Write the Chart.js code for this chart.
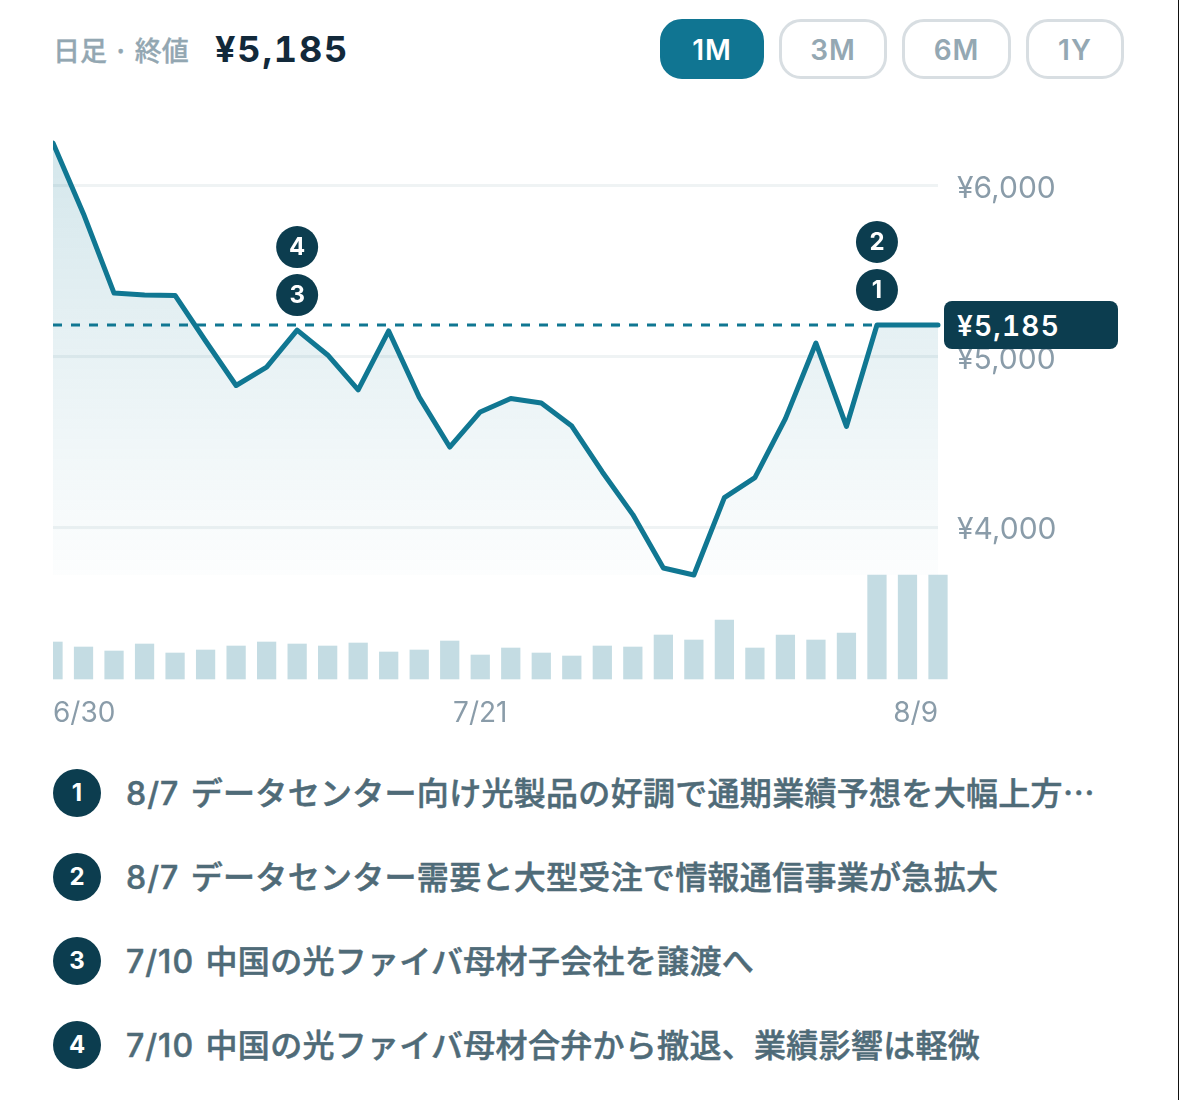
<!DOCTYPE html>
<html lang="ja">
<head>
<meta charset="utf-8">
<title>日足チャート</title>
<script src="https://cdn.jsdelivr.net/npm/chart.js@4/dist/chart.umd.min.js"></script>
<style>
    html, body { margin: 0; padding: 0; background: #fff; }
    body { position: relative; width: 1179px; height: 1100px; overflow: hidden; font-family: Inter, "Noto Sans CJK JP", sans-serif; }
    .edge { position: absolute; right: 0; top: 0; width: 1px; height: 1100px; background: #111; }
    .head-label { position: absolute; left: 53px; top: 30px; font: 500 27px/40px "Noto Sans CJK JP", sans-serif; -webkit-text-stroke: 0.3px #93a7b2; color: #93a7b2; white-space: pre; }
    .head-price { position: absolute; left: 215px; top: 26px; font: 700 36px/46px Inter, sans-serif; font-feature-settings: "tnum"; letter-spacing: 1.8px; color: #12293a; }
    .btn { position: absolute; top: 19px; height: 60px; box-sizing: border-box; border: 3px solid #d8dee2; border-radius: 22px; text-align: center; font: 600 28px/56px Inter, sans-serif; letter-spacing: 1px; color: #94a8b3; }
    .btn.on { background: #107592; border-color: #107592; color: #fff; }
    #chartBox { position: absolute; left: 53px; top: 100px; width: 1126px; height: 640px; }
    #priceTag { position: absolute; left: 944px; width: 174px; height: 48px; box-sizing: border-box; padding-left: 13px; border-radius: 8px; background: #0c3d4f; color: #fff; font: 600 28px/50px Inter, sans-serif; font-feature-settings: "tnum"; letter-spacing: 1.2px; }
    .news { position: absolute; left: 53px; height: 48px; white-space: nowrap; }
    .news .no { position: absolute; left: 0; top: 0; width: 48px; height: 48px; border-radius: 50%; background: #0c3d4f; color: #fff; text-align: center; font: 700 24px/48px Inter, sans-serif; }
    .news .txt { position: absolute; left: 73px; top: -2px; font: 500 32px/48px "Noto Sans CJK JP", sans-serif; letter-spacing: 0.3px; -webkit-text-stroke: 0.5px #4f6b78; color: #4f6b78; }
    .news .dt { font-family: Inter, sans-serif; letter-spacing: 1px; margin-right: 4px; }
</style>
</head>
<body>
<div class="edge"></div>
<div class="head-label">日足 · 終値</div>
<div class="head-price">¥5,185</div>
<div id="buttons"></div>
<div id="chartBox"><canvas id="priceChart"></canvas></div>
<div id="priceTag"></div>
<div id="newsList"></div>

<script>
// 日付ラベル
const dates = ['6/30','7/1','7/2','7/3','7/4','7/7','7/8','7/9','7/10','7/11','7/14','7/15','7/16','7/17','7/21',
    '7/22','7/23','7/24','7/25','7/28','7/29','7/30','7/31','8/1','8/4','8/5','8/6','8/7','8/8','8/9'];
// 終値
const closes = [6252,5836,5372,5361,5358,5091,4830,4938,5155,5009,4804,5150,4762,4469,4675,
    4754,4727,4592,4323,4073,3760,3719,4173,4290,4636,5079,4590,5185,5185,5185];
// 出来高 (相対値)
const volumes = [37,32,28,35,26,29,33,37,35,33,36,27,29,38,24,
    31,26,23,33,32,44,39,59,31,44,39,46,104,104,104];
const latestClose = [5185,5185,5185,5185,5185,5185,5185,5185,5185,5185,5185,5185,5185,5185,5185,
    5185,5185,5185,5185,5185,5185,5185,5185,5185,5185,5185,5185,5185,5185,5185];
const priceTicks = [4000, 5000, 6000];
const dateTicks = ['6/30', '7/21', '8/9'];
const rangeNames = ['1M', '3M', '6M', '1Y'];
const newsNos = [1, 2, 3, 4];
const newsDates = ['8/7', '8/7', '7/10', '7/10'];
const newsTexts = [
    'データセンター向け光製品の好調で通期業績予想を大幅上方…',
    'データセンター需要と大型受注で情報通信事業が急拡大',
    '中国の光ファイバ母材子会社を譲渡へ',
    '中国の光ファイバ母材合弁から撤退、業績影響は軽微'
];
// チャート上のマーカー (日付ごとのニュース番号)
const markerDates = ['7/10', '8/7'];
const markerNos = [[3, 4], [1, 2]];

const yen = v => '¥' + v.toLocaleString('en-US');
const INK = '#0c3d4f', TEAL = '#107792', MUTED = '#8a9ca9';

// ボタン
const btnBox = [[660, 104], [779, 108], [902, 109], [1026, 98]];
document.getElementById('buttons').innerHTML = rangeNames.map((name, i) =>
    `<div class="btn${i === 0 ? ' on' : ''}" style="left:${btnBox[i][0]}px;width:${btnBox[i][1]}px">${name}</div>`).join('');

// ニュース一覧
document.getElementById('newsList').innerHTML = newsNos.map((no, i) =>
    `<div class="news" style="top:${769 + i * 84}px"><div class="no">${no}</div>` +
    `<div class="txt"><span class="dt">${newsDates[i]}</span> ${newsTexts[i]}</div></div>`).join('');

// マーカーを描き、価格タグの位置を合わせるプラグイン
const overlayPlugin = {
    id: 'overlay',
    afterDraw(chart) {
        const { ctx, scales: { x, y } } = chart;
        ctx.save();
        markerDates.forEach((d, m) => {
            const i = dates.indexOf(d);
            const px = x.getPixelForValue(i);
            const py = y.getPixelForValue(closes[i]);
            markerNos[m].forEach((no, k) => {
                const cy = py - 35 - k * 48;
                ctx.beginPath();
                ctx.arc(px, cy, 21, 0, Math.PI * 2);
                ctx.fillStyle = INK;
                ctx.fill();
                ctx.fillStyle = '#fff';
                ctx.font = '700 24px Inter';
                ctx.textAlign = 'center';
                ctx.textBaseline = 'middle';
                ctx.fillText(no, px, cy + 1);
            });
        });
        ctx.restore();
        // 価格タグ
        const last = closes[closes.length - 1];
        const tag = document.getElementById('priceTag');
        tag.textContent = yen(last);
        tag.style.top = (chart.canvas.parentNode.offsetTop + y.getPixelForValue(last) - 24) + 'px';
    }
};

const ctx = document.getElementById('priceChart').getContext('2d');
// 塗りつぶしのグラデーション
const areaGrad = ctx.createLinearGradient(0, 43, 0, 475);
areaGrad.addColorStop(0, 'rgba(16,119,146,0.18)');
areaGrad.addColorStop(1, 'rgba(16,119,146,0.01)');

new Chart(ctx, {
    data: {
        labels: dates,
        datasets: [
            {
                type: 'line',
                data: closes,
                yAxisID: 'y',
                borderColor: TEAL,
                borderWidth: 5,
                borderCapStyle: 'round',
                borderJoinStyle: 'round',
                backgroundColor: areaGrad,
                fill: { value: Math.min(...closes) },
                pointRadius: 0,
                tension: 0,
                clip: false,
                order: 1
            },
            {
                type: 'line',
                data: latestClose,
                yAxisID: 'y',
                borderColor: TEAL,
                borderWidth: 3,
                borderDash: [9, 9],
                pointRadius: 0,
                fill: false,
                order: 2
            },
            {
                type: 'bar',
                data: volumes,
                yAxisID: 'vol',
                backgroundColor: '#c4dce3',
                barThickness: 18.6,
                clip: false,
                order: 3
            }
        ]
    },
    options: {
        responsive: true,
        maintainAspectRatio: false,
        animation: false,
        events: [],
        layout: { autoPadding: false, padding: { top: 43, left: 0, right: 0, bottom: 0 } },
        plugins: { legend: { display: false }, tooltip: { enabled: false } },
        scales: {
            x: {
                offset: false,
                border: { display: false },
                grid: { display: false },
                afterBuildTicks: s => { s.ticks = s.ticks.filter(t => dateTicks.includes(dates[t.value])); },
                afterFit: s => { s.height = 61; s.paddingLeft = 0; s.paddingRight = 0; },
                ticks: {
                    autoSkip: false, maxRotation: 0, align: 'inner', padding: 10,
                    color: MUTED, font: { family: 'Inter', size: 28 }
                }
            },
            y: {
                position: 'right',
                min: 3109,
                max: 6252,
                border: { display: false },
                grid: { color: '#eff3f4', lineWidth: 3, drawTicks: false },
                afterBuildTicks: s => { s.ticks = priceTicks.map(value => ({ value })); },
                afterFit: s => { s.width = 241; },
                ticks: {
                    padding: 19, color: MUTED,
                    font: { family: 'Inter', size: 30, lineHeight: '6px' },
                    // 2行ラベルにして文字の縦位置を少し下げる
                    callback: v => ['', yen(v)]
                }
            },
            vol: { display: false, min: 0, max: 536 }
        }
    },
    plugins: [overlayPlugin]
});
</script>
</body>
</html>
